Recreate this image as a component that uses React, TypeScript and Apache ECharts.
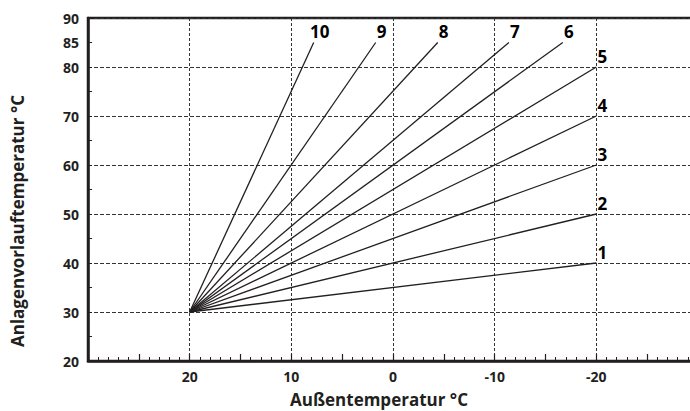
import React, { useEffect, useRef } from "react";
import * as echarts from "echarts";

const curveIds = ["1", "2", "3", "4", "5", "6", "7", "8", "9", "10"];
const startPoint: [number, number] = [20, 30];
const endX = [-20, -20, -20, -20, -20, -16.7, -11.4, -4.4, 1.7, 7.8];
const endY = [40, 50, 60, 70, 80, 85, 85, 85, 85, 85];
const yLabelValues = [20, 30, 40, 50, 60, 70, 80, 85, 90];
const xLabelValues = [20, 10, 0, -10, -20];

const INK = "#231f20";
const FONT = "'Open Sans', 'Noto Sans', sans-serif";

export default function App() {
  const ref = useRef<HTMLDivElement>(null);
  useEffect(() => {
    if (!ref.current) return;
    const chart = echarts.init(ref.current, null, { renderer: "svg" });
    const lineSeries = curveIds.map((id, i) => ({
      type: "line",
      name: id,
      xAxisIndex: 0,
      yAxisIndex: 0,
      data: [startPoint, [endX[i], endY[i]]],
      symbol: "none",
      lineStyle: { color: INK, width: 1.3 },
      silent: true,
      z: 5,
    }));
    const labelSeries = {
      type: "scatter",
      xAxisIndex: 0,
      yAxisIndex: 0,
      symbolSize: 1,
      itemStyle: { color: INK, opacity: 0 },
      data: curveIds.map((id, i) => ({ name: id, value: [endX[i], endY[i]] })),
      label: {
        show: true,
        position: "top",
        distance: 2,
        offset: [6, 0],
        formatter: (p: any) => p.name,
        color: "#000",
        opacity: 1,
        textBorderWidth: 0,
        fontFamily: FONT,
        fontWeight: "bold",
        fontSize: 17,
      },
      z: 6,
    };
    chart.setOption({
      animation: false,
      grid: {
        left: 88,
        width: 610,
        top: 18,
        bottom: 50,
        containLabel: false,
        outerBoundsMode: "none",
        show: true,
        borderColor: INK,
        borderWidth: 2.5,
        backgroundColor: "transparent",
      },
      xAxis: [
        {
          type: "value",
          position: "bottom",
          min: -30,
          max: 30,
          interval: 5,
          inverse: true,
          axisLine: { show: true, onZero: false, lineStyle: { color: INK, width: 2.5 } },
          axisTick: { show: true, inside: true, length: 7, lineStyle: { color: INK, width: 1.2 } },
          minorTick: { show: true, splitNumber: 5, length: 4, lineStyle: { color: INK, width: 1 } },
          splitLine: { show: false },
          axisLabel: {
            margin: 8,
            color: INK,
            fontFamily: FONT,
            fontWeight: "bold",
            fontSize: 14,
            formatter: (v: number) => (xLabelValues.includes(v) ? String(v) : ""),
          },
        },
        {
          type: "value",
          position: "top",
          min: -30,
          max: 30,
          interval: 10,
          inverse: true,
          axisLine: { show: false },
          axisTick: { show: false },
          axisLabel: { show: false },
          splitLine: { show: true, lineStyle: { color: "#333", width: 1, type: [3, 2] } },
        },
      ],
      yAxis: [
        {
          type: "value",
          position: "left",
          min: 20,
          max: 90,
          interval: 5,
          axisLine: { show: true, onZero: false, lineStyle: { color: INK, width: 2.5 } },
          axisTick: { show: true, inside: true, length: 4, lineStyle: { color: INK, width: 1 } },
          splitLine: { show: false },
          axisLabel: {
            margin: 9,
            color: INK,
            fontFamily: FONT,
            fontWeight: "bold",
            fontSize: 14,
            formatter: (v: number) => (yLabelValues.includes(v) ? String(v) : ""),
          },
        },
        {
          type: "value",
          position: "right",
          min: 20,
          max: 90,
          interval: 10,
          axisLine: { show: false, onZero: false },
          axisTick: { show: false },
          axisLabel: { show: false },
          splitLine: { show: true, lineStyle: { color: "#333", width: 1, type: [4, 2] } },
        },
      ],
      graphic: [
        {
          type: "text",
          x: 379,
          y: 399,
          style: {
            text: "Außentemperatur °C",
            fill: INK,
            font: `bold 17px ${FONT}`,
            align: "center",
            verticalAlign: "middle",
          },
        },
        {
          type: "text",
          x: 17,
          y: 221,
          rotation: Math.PI / 2,
          style: {
            text: "Anlagenvorlauftemperatur °C",
            fill: INK,
            font: `bold 17px ${FONT}`,
            align: "center",
            verticalAlign: "middle",
          },
        },
      ],
      series: [...lineSeries, labelSeries],
    });
    return () => chart.dispose();
  }, []);
  return (
    <div
      ref={ref}
      style={{ position: "fixed", left: 0, top: 0, width: 690, height: 411, background: "#fff" }}
    />
  );
}
